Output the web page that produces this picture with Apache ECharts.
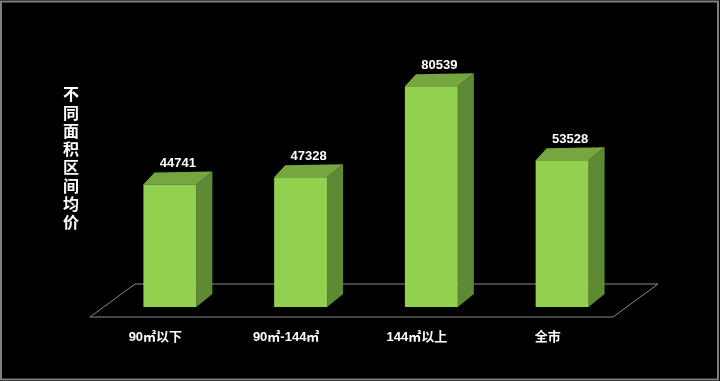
<!DOCTYPE html>
<html>
<head>
<meta charset="utf-8">
<style>
html,body{margin:0;padding:0;background:#000;}
#chart{width:720px;height:381px;}
</style>
<script src="https://cdn.jsdelivr.net/npm/echarts@6/dist/echarts.min.js"></script>
</head>
<body>
<div id="chart"></div>
<script>
var categories = ['90㎡以下', '90㎡-144㎡', '144㎡以上', '全市'];
var values = [44741, 47328, 80539, 53528];
var yTitle = '不同面积区间均价';

var chart = echarts.init(document.getElementById('chart'));

function renderFloor(params, api) {
  var cs = params.coordSys;
  var x0 = cs.x, x1 = cs.x + cs.width, y0 = cs.y + cs.height;
  var dx = 45, dy = -33;
  return {
    type: 'polygon',
    shape: { points: [[x0, y0], [x1, y0], [x1 + dx, y0 + dy], [x0 + dx, y0 + dy]] },
    style: { fill: 'none', stroke: '#8a8a8a', lineWidth: 1 }
  };
}

function renderBar(params, api) {
  var i = api.value(0), v = api.value(1);
  var base = api.coord([i, 0]);
  var top = api.coord([i, v]);
  var band = api.size([1, 0])[0];
  var w = band * 0.405;
  var ox = 14.5, oy = -10;
  var xl = base[0] + ox - w / 2, xr = base[0] + ox + w / 2;
  var yb = base[1] + oy, yt = top[1] + oy;
  var lx = 11, ly = -12, rx = 16, ry = -13;
  return {
    type: 'group',
    children: [
      { type: 'polygon', shape: { points: [[xr, yt], [xr + rx, yt + ry], [xr + rx, yb + ry], [xr, yb]] },
        style: { fill: '#5F8A35' } },
      { type: 'polygon', shape: { points: [[xl, yt], [xr, yt], [xr + rx, yt + ry], [xl + lx, yt + ly]] },
        style: { fill: '#77A641' } },
      { type: 'rect', shape: { x: xl, y: yt, width: xr - xl, height: yb - yt },
        style: { fill: '#92D050' } },
      { type: 'text', style: { text: String(v), x: (xl + xr) / 2 + 8, y: yt - 14,
        align: 'center', verticalAlign: 'bottom', fill: '#ffffff',
        fontSize: 13, fontWeight: 'bold', fontFamily: '"Liberation Sans", Arial, sans-serif' } }
    ]
  };
}

chart.setOption({
  backgroundColor: '#000000',
  animation: false,
  title: {
    text: yTitle.split('').join('\n'),
    left: 58, top: 80,
    textStyle: { color: '#ffffff', fontSize: 16, lineHeight: 18.3, fontWeight: 'bold',
      fontFamily: '"Noto Sans CJK SC", sans-serif' }
  },
  graphic: [{
    type: 'rect', shape: { x: 1, y: 1.5, width: 717, height: 378 },
    style: { fill: 'none', stroke: '#7f7f7f', lineWidth: 2 }, silent: true
  }],
  grid: { left: 90, right: 107, top: 43, bottom: 64 },
  xAxis: {
    type: 'category', data: categories,
    axisLine: { show: false }, axisTick: { show: false },
    axisLabel: { color: '#ffffff', fontSize: 13, fontWeight: 'bold', margin: 14,
      fontFamily: '"Liberation Sans", "Noto Sans CJK SC", sans-serif' }
  },
  yAxis: { type: 'value', min: 0, max: 100000, show: false, splitLine: { show: false } },
  series: [
    { type: 'custom', renderItem: renderFloor, data: [[0, 0]], z: 1, silent: true },
    { type: 'custom', renderItem: renderBar,
      data: values.map(function (v, i) { return [i, v]; }), z: 2,
      encode: { x: 0, y: 1 } }
  ]
});
</script>
</body>
</html>
